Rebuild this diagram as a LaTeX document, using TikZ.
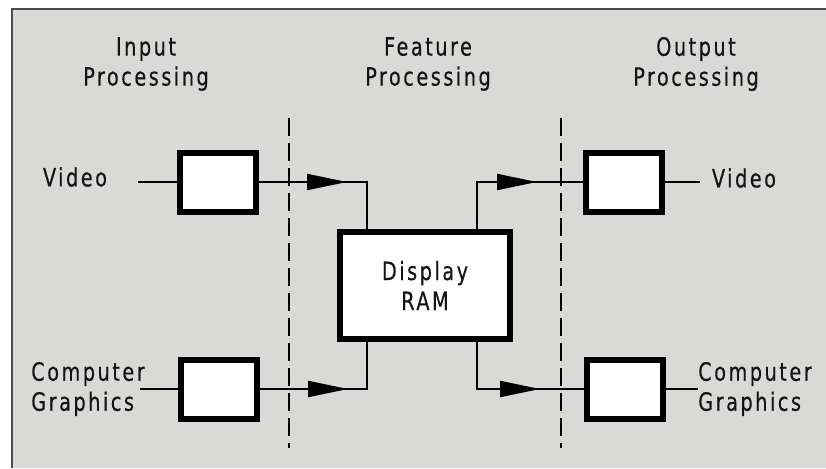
\documentclass[tikz,border=0pt]{standalone}
\usepackage{fontspec}
\setmainfont{DejaVu Sans Condensed}[LetterSpace=10, FakeStretch=0.85, FakeBold=0.4]
\usetikzlibrary{arrows.meta}
\definecolor{panel}{HTML}{D9D9D7}
\definecolor{ink}{HTML}{141414}

\begin{document}
\begin{tikzpicture}[x=0.5pt, y=-0.5pt, font=\fontsize{12.6}{15}\selectfont, text=ink,
  blk/.style={draw=black, line width=3pt, fill=white, minimum width=38pt,
              minimum height=29.5pt, inner sep=0pt},
  rambox/.style={blk, minimum width=85pt, minimum height=53.5pt, align=center},
  lbl/.style={align=left, inner sep=0pt},
  head/.style={align=center, inner sep=0pt},
  wire/.style={line width=1pt, draw=black},
  arr/.style={wire, -{Triangle[length=20pt,width=8pt]}},
  sep/.style={line width=1.1pt, draw=black, dash pattern=on 9pt off 3.5pt}
]
\useasboundingbox (0,0) rectangle (826,468);
\fill[panel] (12,9) rectangle (826,468);
\draw[line width=1pt, draw=black!70] (12,468) -- (12,9) -- (826,9);

\node[head] (hin)   at (146,64) {Input\\Processing};
\node[head] (hfeat) at (428,64) {Feature\\Processing};
\node[head] (hout)  at (696,64) {Output\\Processing};

\coordinate (d1t) at (289,118);
\coordinate (d1b) at (289,448);
\coordinate (d2t) at (561,118);
\coordinate (d2b) at (561,448);
\draw[sep] (d1t) -- (d1b);
\draw[sep] (d2t) -- (d2b);

\node[blk] (invid)  at (218,182) {};
\node[blk] (incg)   at (219,389) {};
\node[rambox] (ram) at (425,285.5) {Display\\RAM};
\node[blk] (outvid) at (623.5,182) {};
\node[blk] (outcg)  at (624.5,389) {};

\node[lbl] (vidin)  at (75,177) {Video};
\node[lbl] (cgin)   at (88,389) {Computer\\Graphics};
\node[lbl] (vidout) at (744,178) {Video};
\node[lbl] (cgout)  at (755,389) {Computer\\Graphics};

\coordinate (vA) at (138,182);
\coordinate (cA) at (140,389);
\coordinate (vB) at (700,182);
\coordinate (cB) at (698,389);
\draw[wire] (vA) -- (invid.west);
\draw[wire] (cA) -- (incg.west);
\draw[wire] (outvid.east) -- (vB);
\draw[wire] (outcg.east) -- (cB);

\coordinate (jA) at (367,182);
\coordinate (tA) at (347,182);
\coordinate (jB) at (367,389);
\coordinate (tB) at (348,389);
\coordinate (jC) at (477,182);
\coordinate (tC) at (537,182);
\coordinate (jD) at (477,389);
\coordinate (tD) at (540,389);
\draw[wire] (invid.east) -- (jA) -- (jA |- ram.north);
\draw[arr] (invid.east) -- (tA);
\draw[wire] (incg.east) -- (jB) -- (jB |- ram.south);
\draw[arr] (incg.east) -- (tB);
\draw[wire] (jC |- ram.north) -- (jC) -- (outvid.west);
\draw[arr] (jC) -- (tC);
\draw[wire] (jD |- ram.south) -- (jD) -- (outcg.west);
\draw[arr] (jD) -- (tD);
\end{tikzpicture}
\end{document}
